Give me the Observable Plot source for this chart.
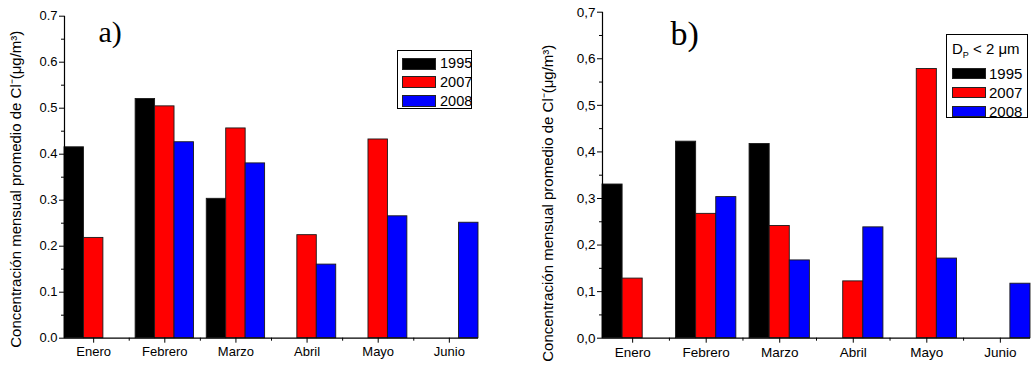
<!DOCTYPE html>
<html><head><meta charset="utf-8">
<script src="https://cdn.jsdelivr.net/npm/d3@7"></script>
<script src="https://cdn.jsdelivr.net/npm/@observablehq/plot@0.6"></script>
<style>
body{margin:0;background:#fff;}
#wrap{position:relative;width:1034px;height:365px;overflow:hidden;font-family:"Liberation Sans",Arial,sans-serif;color:#000;}
.panel{position:absolute;top:0;}
.legend{position:absolute;border:1px solid #000;background:#fff;box-sizing:border-box;}
.sw{position:absolute;border:1px solid #222;box-sizing:border-box;}
.lt{position:absolute;line-height:1;white-space:nowrap;}
</style></head><body><div id="wrap"></div>
<script>
const months = ["Enero","Febrero","Marzo","Abril","Mayo","Junio"];
const years = ["1995","2007","2008"];
const colors = ["#000000","#ff0000","#0000ff"];
// panel a)
const a1995 = [0.415,0.520,0.303,null,null,null];
const a2007 = [0.218,0.504,0.456,0.224,0.432,null];
const a2008 = [null,0.426,0.380,0.160,0.265,0.251];
// panel b)
const b1995 = [0.330,0.422,0.417,null,null,null];
const b2007 = [0.128,0.267,0.241,0.122,0.578,null];
const b2008 = [null,0.303,0.167,0.238,0.171,0.117];
const yTicks = [0,0.1,0.2,0.3,0.4,0.5,0.6,0.7];
const yMinor = [0.05,0.15,0.25,0.35,0.45,0.55,0.65];
const yTitle = "Concentración mensual promedio de Cl\u207B(\u03BCg/m\u00B3)";

const G = 0.82, W = G/3;

function panel(o){
  const rows = [];
  o.series.forEach((s, yi) => s.forEach((v, mi) => {
    if (v != null) rows.push({month: months[mi], year: years[yi], value: v, x1: mi - G/2 + yi*W, x2: mi - G/2 + (yi+1)*W});
  }));
  const svg = Plot.plot({
    width: o.width, height: 365,
    marginLeft: o.ml, marginRight: o.mr, marginTop: o.mt, marginBottom: o.mb,
    style: {fontFamily: '"Liberation Sans", Arial, sans-serif', fontSize: o.fs + "px", color: "#000", background: "transparent", overflow: "visible"},
    x: {domain: [-G/2, months.length - 1 + G/2], axis: null, label: null},
    y: {domain: [0, 0.7], axis: null, label: null},
    color: {domain: years, range: colors},
    marks: [
      Plot.rectY(rows, {x1: "x1", x2: "x2", y1: 0, y2: "value", fill: "year", stroke: "#1a1a1a", strokeWidth: 0.9}),
      Plot.ruleY([0], {stroke: "#000", strokeWidth: 1.2}),
      Plot.ruleX([-G/2], {stroke: "#000", strokeWidth: 1.2}),
      Plot.axisY({ticks: yTicks, tickSize: 5, tickPadding: 2, tickFormat: o.fmt, label: null}),
      Plot.axisY({ticks: yMinor, tickSize: 3, tickFormat: () => "", label: null}),
      Plot.axisX({ticks: d3.range(months.length), tickSize: 5, tickPadding: 4, tickFormat: i => months[i], label: null}),
      Plot.axisX({ticks: d3.range(0.5, months.length - 1, 1), tickSize: 3, tickFormat: () => "", label: null}),
      Plot.text([yTitle], {frameAnchor: "left", textAnchor: "middle", rotate: -90, dx: o.tdx, dy: o.tdy, fontSize: 15, fill: "#000"}),
      Plot.text([o.tag], {frameAnchor: "top-left", dx: o.gdx, dy: o.gdy, fontSize: o.gfs, fontFamily: '"Liberation Serif", "Times New Roman", serif', fill: "#000"})
    ]
  });
  svg.classList.add("panel");
  svg.style.left = o.left + "px";
  return svg;
}

const wrap = document.getElementById("wrap");
wrap.appendChild(panel({left: 0, width: 517, ml: 64, mr: 39, mt: 15.7, mb: 27.3, fs: 13,
  series: [a1995, a2007, a2008], fmt: d => d.toFixed(1), tdx: -48, tdy: 12, tag: "a)", gdx: 34, gdy: 4, gfs: 30}));
wrap.appendChild(panel({left: 517, width: 517, ml: 85, mr: 4, mt: 11.7, mb: 27.3, fs: 13.5,
  series: [b1995, b2007, b2008], fmt: d => d.toFixed(1).replace(".", ","), tdx: -54, tdy: 28, tag: "b)", gdx: 68, gdy: 9, gfs: 34}));

function legend(o){
  const box = document.createElement("div");
  box.className = "legend";
  Object.assign(box.style, {left: o.left + "px", top: o.top + "px", width: o.w + "px", height: o.h + "px"});
  if (o.header) {
    const h = document.createElement("div");
    h.className = "lt";
    h.innerHTML = o.header;
    Object.assign(h.style, {left: o.hx + "px", top: o.hy + "px", fontSize: o.fs + "px"});
    box.appendChild(h);
  }
  years.forEach((y, i) => {
    const s = document.createElement("div");
    s.className = "sw";
    Object.assign(s.style, {left: o.sx + "px", top: (o.sy + i*o.step) + "px", width: o.sw + "px", height: o.sh + "px", background: colors[i]});
    box.appendChild(s);
    const t = document.createElement("div");
    t.className = "lt";
    t.textContent = y;
    Object.assign(t.style, {left: o.tx + "px", top: (o.sy + i*o.step + o.sh/2 - o.fs*0.5) + "px", fontSize: o.fs + "px"});
    box.appendChild(t);
  });
  wrap.appendChild(box);
}
legend({left: 397, top: 50, w: 75, h: 59, sx: 3.5, sy: 6.5, step: 18.7, sw: 34, sh: 12, tx: 42, fs: 14.5});
legend({left: 946, top: 34, w: 82, h: 84, header: 'D<sub style="font-size:9px">P</sub> &lt; 2 \u03BCm', hx: 5, hy: 6, sx: 5, sy: 33, step: 19, sw: 34, sh: 11, tx: 42, fs: 15});
</script></body></html>
